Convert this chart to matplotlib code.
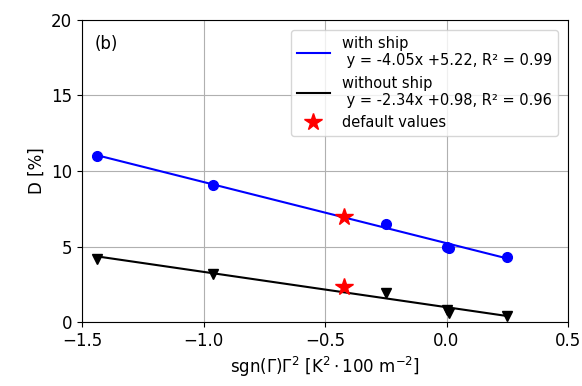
import numpy as np
import matplotlib.pyplot as plt

# values
x_vals = [-1.44, -0.96, -0.25, 0.0, 0.01, 0.25]
d_ship = [11.0, 9.1, 6.5, 5.0, 4.9, 4.3]
d_noship = [4.2, 3.2, 1.9, 0.8, 0.6, 0.4]
x_default = -0.42
d_default = [6.95, 2.3]
fit_ship = (-4.05, 5.22, 0.99)
fit_noship = (-2.34, 0.98, 0.96)


def main():
    fig = plt.figure(figsize=(5.82, 3.86), dpi=100)
    ax = fig.add_axes([82 / 582, 64 / 386, 486 / 582, 302 / 386])

    xs = np.array([min(x_vals), max(x_vals)])
    a, b, r2 = fit_ship
    ax.plot(xs, a * xs + b, color='blue',
            label='with ship\n y = %.2fx +%.2f, R² = %.2f' % (a, b, r2))
    a, b, r2 = fit_noship
    ax.plot(xs, a * xs + b, color='black',
            label='without ship\n y = %.2fx +%.2f, R² = %.2f' % (a, b, r2))

    ax.plot(x_vals, d_ship, 'o', color='blue', markersize=7)
    ax.plot(x_vals, d_noship, 'v', color='black', markersize=7)
    ax.plot([x_default] * 2, d_default, '*', color='red', markersize=13,
            linestyle='none', label='default values')

    ax.set_xlim(-1.5, 0.5)
    ax.set_ylim(0, 20)
    ax.set_xticks([-1.5, -1.0, -0.5, 0.0, 0.5])
    ax.set_yticks([0, 5, 10, 15, 20])
    ax.tick_params(labelsize=12)
    ax.grid(True)
    ax.set_xlabel(r'sgn($\Gamma$)$\Gamma^2$ [K$^2\cdot$100 m$^{-2}$]', fontsize=12)
    ax.set_ylabel('D [%]', fontsize=12)
    ax.text(0.025, 0.905, '(b)', transform=ax.transAxes, fontsize=12)
    ax.legend(loc='upper right', fontsize=10.5, handlelength=2.3,
              borderaxespad=0.7)

    fig.savefig('out.png', dpi=100)


if __name__ == '__main__':
    main()
